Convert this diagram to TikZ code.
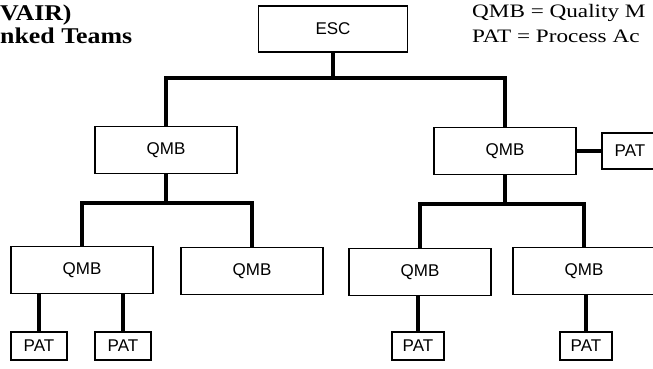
\documentclass[tikz,border=0pt]{standalone}
\usepackage{fontspec}
\setmainfont{Liberation Serif}
\newfontfamily\boxfont{Liberation Sans}
\newfontfamily\titlefont[FakeStretch=1.15]{Liberation Serif}
\newfontfamily\keyfont[FakeStretch=1.22]{Liberation Serif}
\usepackage{tikz}
\usetikzlibrary{calc}

\tikzset{
  unit/.style={draw, line width=1.1pt, fill=white, inner sep=0pt,
    font=\boxfont\fontsize{17}{17}\selectfont},
  board/.style={unit, minimum width=142pt, minimum height=47pt},
  team/.style={unit, minimum width=56pt, minimum height=28pt},
  link/.style={line width=3.2pt},
  heading/.style={font=\titlefont\bfseries\fontsize{22.5}{22.5}\selectfont, inner sep=0pt, anchor=base west},
  legend/.style={font=\keyfont\fontsize{19}{19}\selectfont, inner sep=0pt, anchor=base west}
}

\begin{document}
\begin{tikzpicture}[x=1pt, y=-1pt]
    \useasboundingbox (0,0) rectangle (653,369);
    \clip (0,0) rectangle (653,369);

    % titles and legend
    \node [heading] (title1) at (0,21) {VAIR)};
    \node [heading] (title2) at (0,44) {nked Teams};
    \node [legend] (key1) at (472,18) {QMB = Quality M};
    \node [legend] (key2) at (472,43) {PAT = Process Ac};

    % boards
    \node [unit, minimum width=149pt, minimum height=46pt] (esc) at (333,29) {ESC};
    \node [board] (qmbL) at (166,150) {QMB};
    \node [board] (qmbR) at (505,151) {QMB};
    \node [board] (qmbA) at (82,270) {QMB};
    \node [board] (qmbB) at (252,271) {QMB};
    \node [board] (qmbC) at (420,272) {QMB};
    \node [board] (qmbD) at (584,271) {QMB};

    % teams
    \node [team, minimum height=36pt] (patS) at (630,151) {PAT};
    \node [team] (patA) at (39,346) {PAT};
    \node [team] (patB) at (123,346) {PAT};
    \node [team, minimum width=52pt] (patC) at (418,346) {PAT};
    \node [team, minimum width=52pt] (patD) at (586,346) {PAT};

    \coordinate (busTop) at (333,78);
    \coordinate (busL) at (166,203);
    \coordinate (busR) at (505,204);

    % connectors
    \draw [link] (esc.south) -- (busTop);
    \draw [link] (qmbL.north) |- (busTop) -| (qmbR.north);
    \draw [link] (qmbL.south) -- (busL);
    \draw [link] (qmbA.north) |- (busL) -| (qmbB.north);
    \draw [link] (qmbR.south) -- (busR);
    \draw [link] (qmbC.north) |- (busR) -| (qmbD.north);
    \draw [link] (qmbR.east) -- (patS.west);
    \draw [link] (qmbA.south -| patA) -- (patA.north);
    \draw [link] (qmbA.south -| patB) -- (patB.north);
    \draw [link] (qmbC.south -| patC) -- (patC.north);
    \draw [link] (qmbD.south -| patD) -- (patD.north);
\end{tikzpicture}
\end{document}
